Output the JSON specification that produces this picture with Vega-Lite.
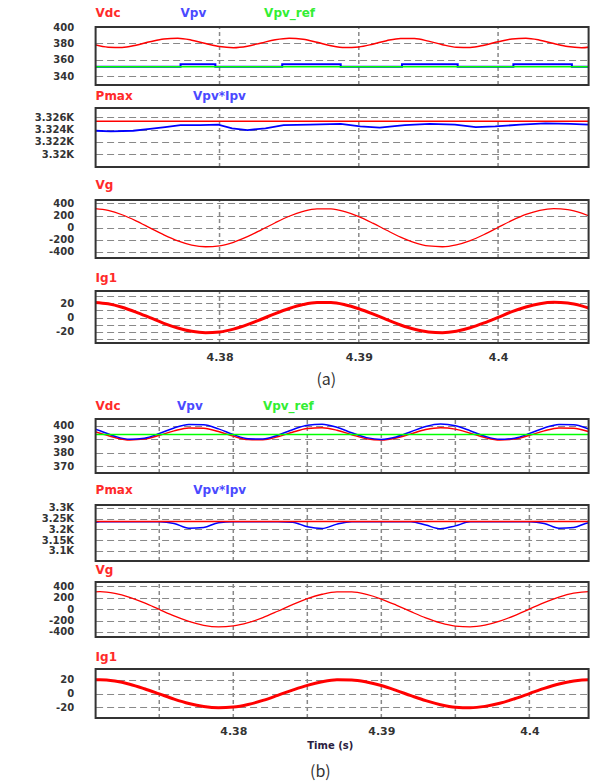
{
"$schema": "https://vega.github.io/schema/vega-lite/v6.json",
"background": "white",
"padding": {"left": 33.6, "top": 7, "right": 0, "bottom": 0},
"config": {
 "view": {"stroke": null},
 "axis": {"labelFont": "DejaVu Sans", "labelFontWeight": "bold", "labelFontSize": 10, "labelColor": "#333333", "ticks": false, "tickSize": 0, "domain": false, "gridColor": "#888888"},
 "axisX": {"labelPadding": 8, "labelFontSize": 11},
 "axisY": {"gridDash": [7, 4], "gridWidth": 1, "labelPadding": 22},
 "text": {"font": "DejaVu Sans", "fontWeight": "bold", "fontSize": 12},
 "line": {"strokeWidth": 1.5}
},
"datasets": {
 "grid": [
  {"p":1,"t":4.38,"lo":329,"hi":400},{"p":1,"t":4.39,"lo":329,"hi":400},{"p":1,"t":4.40,"lo":329,"hi":400},
  {"p":2,"t":4.38,"lo":3317.9,"hi":3327.5},{"p":2,"t":4.39,"lo":3317.9,"hi":3327.5},{"p":2,"t":4.40,"lo":3317.9,"hi":3327.5},
  {"p":3,"t":4.38,"lo":-500,"hi":455},{"p":3,"t":4.39,"lo":-500,"hi":455},{"p":3,"t":4.40,"lo":-500,"hi":455},
  {"p":4,"t":4.38,"lo":-35.2,"hi":36.6},{"p":4,"t":4.39,"lo":-35.2,"hi":36.6},{"p":4,"t":4.40,"lo":-35.2,"hi":36.6},
  {"p":5,"t":4.375,"lo":365,"hi":405},{"p":5,"t":4.38,"lo":365,"hi":405},{"p":5,"t":4.385,"lo":365,"hi":405},{"p":5,"t":4.39,"lo":365,"hi":405},{"p":5,"t":4.395,"lo":365,"hi":405},{"p":5,"t":4.40,"lo":365,"hi":405},
  {"p":6,"t":4.375,"lo":3053,"hi":3314},{"p":6,"t":4.38,"lo":3053,"hi":3314},{"p":6,"t":4.385,"lo":3053,"hi":3314},{"p":6,"t":4.39,"lo":3053,"hi":3314},{"p":6,"t":4.395,"lo":3053,"hi":3314},{"p":6,"t":4.40,"lo":3053,"hi":3314},
  {"p":7,"t":4.375,"lo":-488,"hi":479},{"p":7,"t":4.38,"lo":-488,"hi":479},{"p":7,"t":4.385,"lo":-488,"hi":479},{"p":7,"t":4.39,"lo":-488,"hi":479},{"p":7,"t":4.395,"lo":-488,"hi":479},{"p":7,"t":4.40,"lo":-488,"hi":479},
  {"p":8,"t":4.375,"lo":-35.3,"hi":36},{"p":8,"t":4.38,"lo":-35.3,"hi":36},{"p":8,"t":4.385,"lo":-35.3,"hi":36},{"p":8,"t":4.39,"lo":-35.3,"hi":36},{"p":8,"t":4.395,"lo":-35.3,"hi":36},{"p":8,"t":4.40,"lo":-35.3,"hi":36}
 ],
 "frames": [
  {"p":1,"t":4.3711,"t2":4.4065,"lo":329,"hi":400},
  {"p":2,"t":4.3711,"t2":4.4065,"lo":3317.9,"hi":3327.5},
  {"p":3,"t":4.3711,"t2":4.4065,"lo":-500,"hi":455},
  {"p":4,"t":4.3711,"t2":4.4065,"lo":-35.2,"hi":36.6},
  {"p":5,"t":4.3707,"t2":4.404,"lo":365,"hi":405},
  {"p":6,"t":4.3707,"t2":4.404,"lo":3053,"hi":3314},
  {"p":7,"t":4.3707,"t2":4.404,"lo":-488,"hi":479},
  {"p":8,"t":4.3707,"t2":4.404,"lo":-35.3,"hi":36}
 ],
 "aVdc": [{"t":4.371,"v":378.4},{"t":4.372,"v":375.3},{"t":4.373,"v":375.0},{"t":4.374,"v":377.7},{"t":4.375,"v":381.9},{"t":4.376,"v":385.4},{"t":4.377,"v":386.2},{"t":4.378,"v":383.9},{"t":4.379,"v":379.8},{"t":4.380,"v":376.0},{"t":4.381,"v":374.7},{"t":4.382,"v":376.5},{"t":4.383,"v":380.5},{"t":4.384,"v":384.4},{"t":4.385,"v":386.3},{"t":4.386,"v":385.0},{"t":4.387,"v":381.3},{"t":4.388,"v":377.1},{"t":4.389,"v":374.8},{"t":4.390,"v":375.6},{"t":4.391,"v":379.0},{"t":4.392,"v":383.3},{"t":4.393,"v":386.0},{"t":4.394,"v":385.8},{"t":4.395,"v":382.7},{"t":4.396,"v":378.4},{"t":4.397,"v":375.3},{"t":4.398,"v":375.0},{"t":4.399,"v":377.7},{"t":4.400,"v":381.9},{"t":4.401,"v":385.4},{"t":4.402,"v":386.2},{"t":4.403,"v":383.9},{"t":4.404,"v":379.8},{"t":4.405,"v":376.0},{"t":4.406,"v":374.7},{"t":4.407,"v":376.5}],
 "aVpv": [{"t":4.3711,"v":351.4},{"t":4.3772,"v":354.3},{"t":4.3797,"v":351.4},{"t":4.3845,"v":354.3},{"t":4.3887,"v":351.4},{"t":4.3931,"v":354.3},{"t":4.3971,"v":351.4},{"t":4.4011,"v":354.3},{"t":4.4053,"v":351.4},{"t":4.4065,"v":351.4}],
 "aRef": [{"t":4.3711,"v":351.4},{"t":4.4065,"v":351.4}],
 "aPmax": [{"t":4.3711,"v":3325.35},{"t":4.4065,"v":3325.35}],
 "aPv": [{"t":4.3711,"v":3323.8},{"t":4.3722,"v":3323.7},{"t":4.3738,"v":3323.8},{"t":4.3750,"v":3324.1},{"t":4.3761,"v":3324.4},{"t":4.3772,"v":3324.7},{"t":4.3786,"v":3324.7},{"t":4.3799,"v":3324.8},{"t":4.3809,"v":3324.2},{"t":4.3820,"v":3323.9},{"t":4.3833,"v":3324.2},{"t":4.3846,"v":3324.7},{"t":4.3865,"v":3324.8},{"t":4.3887,"v":3324.9},{"t":4.3901,"v":3324.5},{"t":4.3915,"v":3324.3},{"t":4.3933,"v":3324.7},{"t":4.3951,"v":3324.9},{"t":4.3969,"v":3324.8},{"t":4.3984,"v":3324.4},{"t":4.3998,"v":3324.5},{"t":4.4016,"v":3324.8},{"t":4.4034,"v":3325.0},{"t":4.4052,"v":3324.9},{"t":4.4065,"v":3324.8}],
 "aVg": [{"t":4.371,"v":314.1},{"t":4.372,"v":283.5},{"t":4.373,"v":213.0},{"t":4.374,"v":112.6},{"t":4.375,"v":-3.6},{"t":4.376,"v":-119.3},{"t":4.377,"v":-218.2},{"t":4.378,"v":-286.5},{"t":4.379,"v":-314.6},{"t":4.380,"v":-298.5},{"t":4.381,"v":-240.5},{"t":4.382,"v":-148.6},{"t":4.383,"v":-35.9},{"t":4.384,"v":81.8},{"t":4.385,"v":188.1},{"t":4.386,"v":267.8},{"t":4.387,"v":310.1},{"t":4.388,"v":308.7},{"t":4.389,"v":264.0},{"t":4.390,"v":182.2},{"t":4.391,"v":74.9},{"t":4.392,"v":-43.0},{"t":4.393,"v":-154.9},{"t":4.394,"v":-245.0},{"t":4.395,"v":-300.7},{"t":4.396,"v":-314.1},{"t":4.397,"v":-283.5},{"t":4.398,"v":-213.0},{"t":4.399,"v":-112.6},{"t":4.400,"v":3.6},{"t":4.401,"v":119.3},{"t":4.402,"v":218.2},{"t":4.403,"v":286.5},{"t":4.404,"v":314.6},{"t":4.405,"v":298.5},{"t":4.406,"v":240.5},{"t":4.407,"v":148.6}],
 "aIg": [{"t":4.371,"v":20.9},{"t":4.372,"v":18.9},{"t":4.373,"v":14.2},{"t":4.374,"v":7.5},{"t":4.375,"v":-0.2},{"t":4.376,"v":-8.0},{"t":4.377,"v":-14.5},{"t":4.378,"v":-19.1},{"t":4.379,"v":-21.0},{"t":4.380,"v":-19.9},{"t":4.381,"v":-16.0},{"t":4.382,"v":-9.9},{"t":4.383,"v":-2.4},{"t":4.384,"v":5.5},{"t":4.385,"v":12.5},{"t":4.386,"v":17.9},{"t":4.387,"v":20.7},{"t":4.388,"v":20.6},{"t":4.389,"v":17.6},{"t":4.390,"v":12.1},{"t":4.391,"v":5.0},{"t":4.392,"v":-2.9},{"t":4.393,"v":-10.3},{"t":4.394,"v":-16.3},{"t":4.395,"v":-20.0},{"t":4.396,"v":-20.9},{"t":4.397,"v":-18.9},{"t":4.398,"v":-14.2},{"t":4.399,"v":-7.5},{"t":4.400,"v":0.2},{"t":4.401,"v":8.0},{"t":4.402,"v":14.5},{"t":4.403,"v":19.1},{"t":4.404,"v":21.0},{"t":4.405,"v":19.9},{"t":4.406,"v":16.0},{"t":4.407,"v":9.9}],
 "bVdc": [{"t":4.370,"v":397.5},{"t":4.371,"v":394.5},{"t":4.372,"v":391.3},{"t":4.373,"v":389.5},{"t":4.374,"v":390.1},{"t":4.375,"v":392.9},{"t":4.376,"v":396.2},{"t":4.377,"v":398.4},{"t":4.378,"v":398.1},{"t":4.379,"v":395.7},{"t":4.380,"v":392.3},{"t":4.381,"v":389.8},{"t":4.382,"v":389.6},{"t":4.383,"v":391.8},{"t":4.384,"v":395.2},{"t":4.385,"v":397.9},{"t":4.386,"v":398.5},{"t":4.387,"v":396.7},{"t":4.388,"v":393.4},{"t":4.389,"v":390.4},{"t":4.390,"v":389.4},{"t":4.391,"v":390.9},{"t":4.392,"v":394.0},{"t":4.393,"v":397.2},{"t":4.394,"v":398.6},{"t":4.395,"v":397.5},{"t":4.396,"v":394.5},{"t":4.397,"v":391.3},{"t":4.398,"v":389.5},{"t":4.399,"v":390.1},{"t":4.400,"v":392.9},{"t":4.401,"v":396.2},{"t":4.402,"v":398.4},{"t":4.403,"v":398.1},{"t":4.404,"v":395.7},{"t":4.405,"v":392.3}],
 "bVpv": [{"t":4.370,"v":400.0},{"t":4.371,"v":396.3},{"t":4.372,"v":392.2},{"t":4.373,"v":390.0},{"t":4.374,"v":390.8},{"t":4.375,"v":394.2},{"t":4.376,"v":398.4},{"t":4.377,"v":401.0},{"t":4.378,"v":400.7},{"t":4.379,"v":397.7},{"t":4.380,"v":393.5},{"t":4.381,"v":390.4},{"t":4.382,"v":390.2},{"t":4.383,"v":392.9},{"t":4.384,"v":397.1},{"t":4.385,"v":400.4},{"t":4.386,"v":401.2},{"t":4.387,"v":398.9},{"t":4.388,"v":394.8},{"t":4.389,"v":391.2},{"t":4.390,"v":389.9},{"t":4.391,"v":391.7},{"t":4.392,"v":395.6},{"t":4.393,"v":399.5},{"t":4.394,"v":401.3},{"t":4.395,"v":400.0},{"t":4.396,"v":396.3},{"t":4.397,"v":392.2},{"t":4.398,"v":390.0},{"t":4.399,"v":390.8},{"t":4.400,"v":394.2},{"t":4.401,"v":398.4},{"t":4.402,"v":401.0},{"t":4.403,"v":400.7},{"t":4.404,"v":397.7},{"t":4.405,"v":393.5}],
 "bRef": [{"t":4.3707,"v":393.5},{"t":4.404,"v":393.5}],
 "bPmax": [{"t":4.3707,"v":3236.5},{"t":4.404,"v":3236.5}],
 "bPv": [{"t":4.370,"v":3216.7},{"t":4.371,"v":3235.5},{"t":4.372,"v":3236},{"t":4.373,"v":3236},{"t":4.374,"v":3236},{"t":4.375,"v":3236},{"t":4.376,"v":3228.1},{"t":4.377,"v":3206.0},{"t":4.378,"v":3209.2},{"t":4.379,"v":3231.7},{"t":4.380,"v":3236},{"t":4.381,"v":3236},{"t":4.382,"v":3236},{"t":4.383,"v":3236},{"t":4.384,"v":3233.8},{"t":4.385,"v":3212.3},{"t":4.386,"v":3204.2},{"t":4.387,"v":3224.8},{"t":4.388,"v":3236},{"t":4.389,"v":3236},{"t":4.390,"v":3236},{"t":4.391,"v":3236},{"t":4.392,"v":3236},{"t":4.393,"v":3220.3},{"t":4.394,"v":3203.1},{"t":4.395,"v":3216.7},{"t":4.396,"v":3235.5},{"t":4.397,"v":3236},{"t":4.398,"v":3236},{"t":4.399,"v":3236},{"t":4.400,"v":3236},{"t":4.401,"v":3228.1},{"t":4.402,"v":3206.0},{"t":4.403,"v":3209.2},{"t":4.404,"v":3231.7},{"t":4.405,"v":3236}],
 "bVg": [{"t":4.370,"v":295.9},{"t":4.371,"v":309.2},{"t":4.372,"v":279.0},{"t":4.373,"v":209.6},{"t":4.374,"v":110.9},{"t":4.375,"v":-3.5},{"t":4.376,"v":-117.4},{"t":4.377,"v":-214.7},{"t":4.378,"v":-282.0},{"t":4.379,"v":-309.6},{"t":4.380,"v":-293.7},{"t":4.381,"v":-236.7},{"t":4.382,"v":-146.2},{"t":4.383,"v":-35.4},{"t":4.384,"v":80.5},{"t":4.385,"v":185.1},{"t":4.386,"v":263.6},{"t":4.387,"v":305.1},{"t":4.388,"v":303.8},{"t":4.389,"v":259.8},{"t":4.390,"v":179.3},{"t":4.391,"v":73.7},{"t":4.392,"v":-42.3},{"t":4.393,"v":-152.4},{"t":4.394,"v":-241.1},{"t":4.395,"v":-295.9},{"t":4.396,"v":-309.1},{"t":4.397,"v":-279.0},{"t":4.398,"v":-209.7},{"t":4.399,"v":-110.8},{"t":4.400,"v":3.5},{"t":4.401,"v":117.4},{"t":4.402,"v":214.7},{"t":4.403,"v":282.0},{"t":4.404,"v":309.6},{"t":4.405,"v":293.7}],
 "bIg": [{"t":4.370,"v":19.6},{"t":4.371,"v":20.4},{"t":4.372,"v":18.4},{"t":4.373,"v":13.9},{"t":4.374,"v":7.3},{"t":4.375,"v":-0.2},{"t":4.376,"v":-7.8},{"t":4.377,"v":-14.2},{"t":4.378,"v":-18.6},{"t":4.379,"v":-20.5},{"t":4.380,"v":-19.4},{"t":4.381,"v":-15.6},{"t":4.382,"v":-9.7},{"t":4.383,"v":-2.3},{"t":4.384,"v":5.3},{"t":4.385,"v":12.2},{"t":4.386,"v":17.4},{"t":4.387,"v":20.2},{"t":4.388,"v":20.1},{"t":4.389,"v":17.2},{"t":4.390,"v":11.9},{"t":4.391,"v":4.9},{"t":4.392,"v":-2.8},{"t":4.393,"v":-10.1},{"t":4.394,"v":-15.9},{"t":4.395,"v":-19.6},{"t":4.396,"v":-20.4},{"t":4.397,"v":-18.4},{"t":4.398,"v":-13.9},{"t":4.399,"v":-7.3},{"t":4.400,"v":0.2},{"t":4.401,"v":7.8},{"t":4.402,"v":14.2},{"t":4.403,"v":18.6},{"t":4.404,"v":20.5},{"t":4.405,"v":19.4}],
 "labels": [
  {"p":1,"t":4.3711,"v":417.1,"s":"Vdc"},{"p":1,"t":4.3772,"v":417.1,"s":"Vpv"},{"p":1,"t":4.3832,"v":417.1,"s":"Vpv_ref"},
  {"p":2,"t":4.3711,"v":3329.53,"s":"Pmax"},{"p":2,"t":4.3781,"v":3329.53,"s":"Vpv*Ipv"},
  {"p":3,"t":4.3711,"v":702,"s":"Vg"},
  {"p":4,"t":4.3711,"v":54.55,"s":"Ig1"},
  {"p":5,"t":4.3707,"v":414.6,"s":"Vdc"},{"p":5,"t":4.3762,"v":414.6,"s":"Vpv"},{"p":5,"t":4.3820,"v":414.6,"s":"Vpv_ref"},
  {"p":6,"t":4.3707,"v":3383.9,"s":"Pmax"},{"p":6,"t":4.3773,"v":3383.9,"s":"Vpv*Ipv"},
  {"p":7,"t":4.3707,"v":690,"s":"Vg"},
  {"p":8,"t":4.3707,"v":53.46,"s":"Ig1"}
 ],
 "caps": [{"p":4,"t":4.38767,"v":-86.3,"txt":"(a)"},{"p":8,"t":4.38588,"v":-113.9,"txt":"(b)"}],
 "tlab": [{"t":4.385,"v":-76.0,"txt":"Time (s)"}]
},
"vconcat": [
 {"width": 493, "height": 58,
  "encoding": {
   "x": {"field":"t","type":"quantitative","scale":{"domain":[4.3711,4.4065],"nice":false,"zero":false},"axis":null},
   "y": {"field":"v","type":"quantitative","scale":{"domain":[329,400],"nice":false,"zero":false},"axis":{"values":[340,360,380,400],"grid":true,"title":null,"labelExpr":"'' + datum.value"}}
  },
  "layer": [
   {"data":{"name":"grid"},"transform":[{"filter":"datum.p==1"}],"mark":{"type":"rule","color":"#888888","strokeDash":[4,3],"strokeWidth":1.5},"encoding":{"x":{"field":"t","type":"quantitative"},"y":{"field":"lo","type":"quantitative"},"y2":{"field":"hi"}}},
   {"data":{"name":"aVdc"},"mark":{"type":"line","color":"#ff0000","clip":true,"interpolate":"monotone"},"encoding":{}},
   {"data":{"name":"aVpv"},"mark":{"type":"line","color":"#0000ff","clip":true,"interpolate":"step-after","strokeWidth":2},"encoding":{}},
   {"data":{"name":"aRef"},"mark":{"type":"line","color":"#00ff00","clip":true},"encoding":{}},
   {"data":{"name":"frames"},"transform":[{"filter":"datum.p==1"}],"mark":{"type":"rect","fill":"white","fillOpacity":0,"stroke":"#333333","strokeWidth":2},"encoding":{"x":{"field":"t","type":"quantitative"},"x2":{"field":"t2"},"y":{"field":"lo","type":"quantitative"},"y2":{"field":"hi"}}},
   {"data":{"name":"labels"},"transform":[{"filter":"datum.p==1"}],"mark":{"type":"text","align":"left","baseline":"middle"},
    "encoding":{"text":{"field":"s"},"color":{"field":"s","type":"nominal","legend":null,"scale":{"domain":["Vdc","Vpv","Vpv_ref","Pmax","Vpv*Ipv","Vg","Ig1"],"range":["#ff2a2a","#4a4aff","#33ee33","#ff2a2a","#4a4aff","#ff2a2a","#ff2a2a"]}}}}
  ]
 },
 {"width": 493, "height": 82,
  "encoding": {
   "x": {"field":"t","type":"quantitative","scale":{"domain":[4.3711,4.4065],"nice":false,"zero":false},"axis":null},
   "y": {"field":"v","type":"quantitative","scale":{"domain":[3317.9,3331.24],"nice":false,"zero":false},"axis":{"values":[3320,3322,3324,3326],"grid":true,"title":null,"labelExpr":"datum.value/1000 + 'K'"}}
  },
  "layer": [
   {"data":{"name":"grid"},"transform":[{"filter":"datum.p==2"}],"mark":{"type":"rule","color":"#888888","strokeDash":[4,3],"strokeWidth":1.5},"encoding":{"x":{"field":"t","type":"quantitative"},"y":{"field":"lo","type":"quantitative"},"y2":{"field":"hi"}}},
   {"data":{"name":"aPmax"},"mark":{"type":"line","color":"#ff0000","clip":true},"encoding":{}},
   {"data":{"name":"aPv"},"mark":{"type":"line","color":"#0000ff","clip":true,"strokeWidth":1.8},"encoding":{}},
   {"data":{"name":"frames"},"transform":[{"filter":"datum.p==2"}],"mark":{"type":"rect","fill":"white","fillOpacity":0,"stroke":"#333333","strokeWidth":2},"encoding":{"x":{"field":"t","type":"quantitative"},"x2":{"field":"t2"},"y":{"field":"lo","type":"quantitative"},"y2":{"field":"hi"}}},
   {"data":{"name":"labels"},"transform":[{"filter":"datum.p==2"}],"mark":{"type":"text","align":"left","baseline":"middle"},
    "encoding":{"text":{"field":"s"},"color":{"field":"s","type":"nominal","legend":null,"scale":{"domain":["Vdc","Vpv","Vpv_ref","Pmax","Vpv*Ipv","Vg","Ig1"],"range":["#ff2a2a","#4a4aff","#33ee33","#ff2a2a","#4a4aff","#ff2a2a","#ff2a2a"]}}}}
  ]
 },
 {"width": 493, "height": 91,
  "encoding": {
   "x": {"field":"t","type":"quantitative","scale":{"domain":[4.3711,4.4065],"nice":false,"zero":false},"axis":null},
   "y": {"field":"v","type":"quantitative","scale":{"domain":[-500,1000.4],"nice":false,"zero":false},"axis":{"values":[-400,-200,0,200,400],"grid":true,"title":null,"labelExpr":"'' + datum.value"}}
  },
  "layer": [
   {"data":{"name":"grid"},"transform":[{"filter":"datum.p==3"}],"mark":{"type":"rule","color":"#888888","strokeDash":[4,3],"strokeWidth":1.5},"encoding":{"x":{"field":"t","type":"quantitative"},"y":{"field":"lo","type":"quantitative"},"y2":{"field":"hi"}}},
   {"data":{"name":"aVg"},"mark":{"type":"line","color":"#ff0000","clip":true,"interpolate":"monotone","strokeWidth":1.3},"encoding":{}},
   {"data":{"name":"frames"},"transform":[{"filter":"datum.p==3"}],"mark":{"type":"rect","fill":"white","fillOpacity":0,"stroke":"#333333","strokeWidth":2},"encoding":{"x":{"field":"t","type":"quantitative"},"x2":{"field":"t2"},"y":{"field":"lo","type":"quantitative"},"y2":{"field":"hi"}}},
   {"data":{"name":"labels"},"transform":[{"filter":"datum.p==3"}],"mark":{"type":"text","align":"left","baseline":"middle"},
    "encoding":{"text":{"field":"s"},"color":{"field":"s","type":"nominal","legend":null,"scale":{"domain":["Vdc","Vpv","Vpv_ref","Pmax","Vpv*Ipv","Vg","Ig1"],"range":["#ff2a2a","#4a4aff","#33ee33","#ff2a2a","#4a4aff","#ff2a2a","#ff2a2a"]}}}}
  ]
 },
 {"width": 493, "height": 85,
  "encoding": {
   "x": {"field":"t","type":"quantitative","scale":{"domain":[4.3711,4.4065],"nice":false,"zero":false},"axis":{"values":[4.38,4.39,4.4],"grid":false,"title":null,"labelExpr":"'' + round(datum.value*100)/100"}},
   "y": {"field":"v","type":"quantitative","scale":{"domain":[-35.2,82.17],"nice":false,"zero":false},"axis":{"values":[-30,-20,-10,0,10,20,30],"grid":true,"title":null,"labelExpr":"datum.value % 20 == 0 ? '' + datum.value : ''"}}
  },
  "layer": [
   {"data":{"name":"grid"},"transform":[{"filter":"datum.p==4"}],"mark":{"type":"rule","color":"#888888","strokeDash":[4,3],"strokeWidth":1.5},"encoding":{"x":{"field":"t","type":"quantitative"},"y":{"field":"lo","type":"quantitative"},"y2":{"field":"hi"}}},
   {"data":{"name":"aIg"},"mark":{"type":"line","color":"#ff0000","clip":true,"interpolate":"monotone","strokeWidth":3},"encoding":{}},
   {"data":{"name":"frames"},"transform":[{"filter":"datum.p==4"}],"mark":{"type":"rect","fill":"white","fillOpacity":0,"stroke":"#333333","strokeWidth":2},"encoding":{"x":{"field":"t","type":"quantitative"},"x2":{"field":"t2"},"y":{"field":"lo","type":"quantitative"},"y2":{"field":"hi"}}},
   {"data":{"name":"labels"},"transform":[{"filter":"datum.p==4"}],"mark":{"type":"text","align":"left","baseline":"middle"},
    "encoding":{"text":{"field":"s"},"color":{"field":"s","type":"nominal","legend":null,"scale":{"domain":["Vdc","Vpv","Vpv_ref","Pmax","Vpv*Ipv","Vg","Ig1"],"range":["#ff2a2a","#4a4aff","#33ee33","#ff2a2a","#4a4aff","#ff2a2a","#ff2a2a"]}}}},
   {"data":{"name":"caps"},"transform":[{"filter":"datum.p==4"}],"mark":{"type":"text","align":"center","baseline":"middle","font":"Noto Sans CJK KR","fontWeight":"normal","fontSize":16,"color":"#333333"},"encoding":{"text":{"field":"txt"}}}
  ]
 },
 {"width": 493, "height": 130,
  "encoding": {
   "x": {"field":"t","type":"quantitative","scale":{"domain":[4.3707,4.404],"nice":false,"zero":false},"axis":null},
   "y": {"field":"v","type":"quantitative","scale":{"domain":[365,461.3],"nice":false,"zero":false},"axis":{"values":[370,380,390,400],"grid":true,"title":null,"labelExpr":"'' + datum.value"}}
  },
  "layer": [
   {"data":{"name":"grid"},"transform":[{"filter":"datum.p==5"}],"mark":{"type":"rule","color":"#888888","strokeDash":[4,3],"strokeWidth":1.5},"encoding":{"x":{"field":"t","type":"quantitative"},"y":{"field":"lo","type":"quantitative"},"y2":{"field":"hi"}}},
   {"data":{"name":"bVdc"},"mark":{"type":"line","color":"#ff0000","clip":true,"interpolate":"monotone"},"encoding":{}},
   {"data":{"name":"bVpv"},"mark":{"type":"line","color":"#0000ff","clip":true,"interpolate":"monotone"},"encoding":{}},
   {"data":{"name":"bRef"},"mark":{"type":"line","color":"#00ff00","clip":true},"encoding":{}},
   {"data":{"name":"frames"},"transform":[{"filter":"datum.p==5"}],"mark":{"type":"rect","fill":"white","fillOpacity":0,"stroke":"#333333","strokeWidth":2},"encoding":{"x":{"field":"t","type":"quantitative"},"x2":{"field":"t2"},"y":{"field":"lo","type":"quantitative"},"y2":{"field":"hi"}}},
   {"data":{"name":"labels"},"transform":[{"filter":"datum.p==5"}],"mark":{"type":"text","align":"left","baseline":"middle"},
    "encoding":{"text":{"field":"s"},"color":{"field":"s","type":"nominal","legend":null,"scale":{"domain":["Vdc","Vpv","Vpv_ref","Pmax","Vpv*Ipv","Vg","Ig1"],"range":["#ff2a2a","#4a4aff","#33ee33","#ff2a2a","#4a4aff","#ff2a2a","#ff2a2a"]}}}}
  ]
 },
 {"width": 493, "height": 88,
  "encoding": {
   "x": {"field":"t","type":"quantitative","scale":{"domain":[4.3707,4.404],"nice":false,"zero":false},"axis":null},
   "y": {"field":"v","type":"quantitative","scale":{"domain":[3053,3463.1],"nice":false,"zero":false},"axis":{"values":[3100,3150,3200,3250,3300],"grid":true,"title":null,"labelExpr":"datum.value/1000 + 'K'"}}
  },
  "layer": [
   {"data":{"name":"grid"},"transform":[{"filter":"datum.p==6"}],"mark":{"type":"rule","color":"#888888","strokeDash":[4,3],"strokeWidth":1.5},"encoding":{"x":{"field":"t","type":"quantitative"},"y":{"field":"lo","type":"quantitative"},"y2":{"field":"hi"}}},
   {"data":{"name":"bPv"},"mark":{"type":"line","color":"#0000ff","clip":true,"interpolate":"monotone"},"encoding":{}},
   {"data":{"name":"bPmax"},"mark":{"type":"line","color":"#ff0000","clip":true},"encoding":{}},
   {"data":{"name":"frames"},"transform":[{"filter":"datum.p==6"}],"mark":{"type":"rect","fill":"white","fillOpacity":0,"stroke":"#333333","strokeWidth":2},"encoding":{"x":{"field":"t","type":"quantitative"},"x2":{"field":"t2"},"y":{"field":"lo","type":"quantitative"},"y2":{"field":"hi"}}},
   {"data":{"name":"labels"},"transform":[{"filter":"datum.p==6"}],"mark":{"type":"text","align":"left","baseline":"middle"},
    "encoding":{"text":{"field":"s"},"color":{"field":"s","type":"nominal","legend":null,"scale":{"domain":["Vdc","Vpv","Vpv_ref","Pmax","Vpv*Ipv","Vg","Ig1"],"range":["#ff2a2a","#4a4aff","#33ee33","#ff2a2a","#4a4aff","#ff2a2a","#ff2a2a"]}}}}
  ]
 },
 {"width": 493, "height": 76,
  "encoding": {
   "x": {"field":"t","type":"quantitative","scale":{"domain":[4.3707,4.404],"nice":false,"zero":false},"axis":null},
   "y": {"field":"v","type":"quantitative","scale":{"domain":[-488,848.2],"nice":false,"zero":false},"axis":{"values":[-400,-200,0,200,400],"grid":true,"title":null,"labelExpr":"'' + datum.value"}}
  },
  "layer": [
   {"data":{"name":"grid"},"transform":[{"filter":"datum.p==7"}],"mark":{"type":"rule","color":"#888888","strokeDash":[4,3],"strokeWidth":1.5},"encoding":{"x":{"field":"t","type":"quantitative"},"y":{"field":"lo","type":"quantitative"},"y2":{"field":"hi"}}},
   {"data":{"name":"bVg"},"mark":{"type":"line","color":"#ff0000","clip":true,"interpolate":"monotone","strokeWidth":1.3},"encoding":{}},
   {"data":{"name":"frames"},"transform":[{"filter":"datum.p==7"}],"mark":{"type":"rect","fill":"white","fillOpacity":0,"stroke":"#333333","strokeWidth":2},"encoding":{"x":{"field":"t","type":"quantitative"},"x2":{"field":"t2"},"y":{"field":"lo","type":"quantitative"},"y2":{"field":"hi"}}},
   {"data":{"name":"labels"},"transform":[{"filter":"datum.p==7"}],"mark":{"type":"text","align":"left","baseline":"middle"},
    "encoding":{"text":{"field":"s"},"color":{"field":"s","type":"nominal","legend":null,"scale":{"domain":["Vdc","Vpv","Vpv_ref","Pmax","Vpv*Ipv","Vg","Ig1"],"range":["#ff2a2a","#4a4aff","#33ee33","#ff2a2a","#4a4aff","#ff2a2a","#ff2a2a"]}}}}
  ]
 },
 {"width": 493, "height": 81,
  "encoding": {
   "x": {"field":"t","type":"quantitative","scale":{"domain":[4.3707,4.404],"nice":false,"zero":false},"axis":{"values":[4.375,4.38,4.385,4.39,4.395,4.4],"grid":false,"title":null,"labelExpr":"round(datum.value*1000) % 10 == 0 ? '' + round(datum.value*100)/100 : ''"}},
   "y": {"field":"v","type":"quantitative","scale":{"domain":[-35.3,82.56],"nice":false,"zero":false},"axis":{"values":[-20,0,20],"grid":true,"title":null,"labelExpr":"'' + datum.value"}}
  },
  "layer": [
   {"data":{"name":"grid"},"transform":[{"filter":"datum.p==8"}],"mark":{"type":"rule","color":"#888888","strokeDash":[4,3],"strokeWidth":1.5},"encoding":{"x":{"field":"t","type":"quantitative"},"y":{"field":"lo","type":"quantitative"},"y2":{"field":"hi"}}},
   {"data":{"name":"bIg"},"mark":{"type":"line","color":"#ff0000","clip":true,"interpolate":"monotone","strokeWidth":3},"encoding":{}},
   {"data":{"name":"frames"},"transform":[{"filter":"datum.p==8"}],"mark":{"type":"rect","fill":"white","fillOpacity":0,"stroke":"#333333","strokeWidth":2},"encoding":{"x":{"field":"t","type":"quantitative"},"x2":{"field":"t2"},"y":{"field":"lo","type":"quantitative"},"y2":{"field":"hi"}}},
   {"data":{"name":"labels"},"transform":[{"filter":"datum.p==8"}],"mark":{"type":"text","align":"left","baseline":"middle"},
    "encoding":{"text":{"field":"s"},"color":{"field":"s","type":"nominal","legend":null,"scale":{"domain":["Vdc","Vpv","Vpv_ref","Pmax","Vpv*Ipv","Vg","Ig1"],"range":["#ff2a2a","#4a4aff","#33ee33","#ff2a2a","#4a4aff","#ff2a2a","#ff2a2a"]}}}},
   {"data":{"name":"caps"},"transform":[{"filter":"datum.p==8"}],"mark":{"type":"text","align":"center","baseline":"middle","font":"Noto Sans CJK KR","fontWeight":"normal","fontSize":16,"color":"#333333"},"encoding":{"text":{"field":"txt"}}},
   {"data":{"name":"tlab"},"mark":{"type":"text","align":"left","baseline":"middle","fontSize":10,"color":"#2a2040"},"encoding":{"text":{"field":"txt"}}}
  ]
 }
],
"spacing": 0,
"bounds": "flush"
}
